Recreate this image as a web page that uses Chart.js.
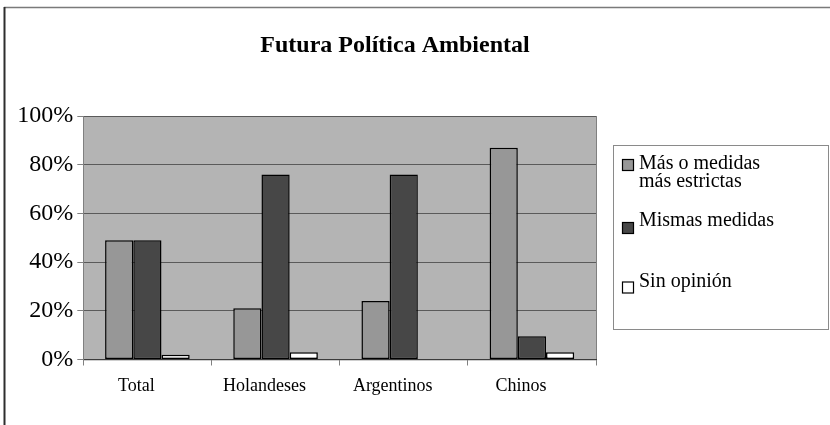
<!DOCTYPE html>
<html>
<head>
<meta charset="utf-8">
<script src="https://cdn.jsdelivr.net/npm/chart.js@4/dist/chart.umd.min.js"></script>
<style>
  html, body { margin: 0; padding: 0; background: #ffffff; }
  #wrap { width: 830px; height: 425px; }
</style>
</head>
<body>
<div id="wrap"><canvas id="chart" width="830" height="425"></canvas></div>
<script>
// Survey data: opinion on future environmental policy, by group (percent)
const categories = ['Total', 'Holandeses', 'Argentinos', 'Chinos'];
const seriesNames = ['Más o medidas más estrictas', 'Mismas medidas', 'Sin opinión'];
const masEstrictas = [49, 21, 24, 87];
const mismasMedidas = [49, 76, 76, 9.5];
const sinOpinion = [2, 3, 0, 3];
const yTickValues = [0, 20, 40, 60, 80, 100];
const chartTitle = 'Futura Política Ambiental';

const SERIF = '"Liberation Serif", "Times New Roman", serif';
const seriesColors = ['#979797', '#474747', '#ffffff'];

// Outer frame lines (top and left edge of the chart object)
const framePlugin = {
  id: 'frame',
  beforeDraw(chart) {
    const ctx = chart.ctx;
    ctx.save();
    ctx.strokeStyle = '#7a7a7a';
    ctx.lineWidth = 1.5;
    ctx.beginPath();
    ctx.moveTo(4, 7.5);
    ctx.lineTo(chart.width, 7.5);
    ctx.stroke();
    ctx.strokeStyle = '#2e2e2e';
    ctx.lineWidth = 2;
    ctx.beginPath();
    ctx.moveTo(4.5, 7);
    ctx.lineTo(4.5, chart.height);
    ctx.stroke();
    ctx.restore();
  }
};

// Grey plot area with a thin outline on the right
const plotAreaPlugin = {
  id: 'plotArea',
  beforeDraw(chart) {
    const { ctx, chartArea: a } = chart;
    ctx.save();
    ctx.fillStyle = '#b4b4b4';
    ctx.fillRect(a.left, a.top, a.right - a.left, a.bottom - a.top);
    ctx.strokeStyle = '#808080';
    ctx.lineWidth = 1;
    ctx.beginPath();
    ctx.moveTo(a.right + 0.5, a.top);
    ctx.lineTo(a.right + 0.5, a.bottom);
    ctx.stroke();
    ctx.restore();
  }
};

// Title text
const titlePlugin = {
  id: 'titleText',
  afterDraw(chart) {
    const ctx = chart.ctx;
    ctx.save();
    ctx.font = 'bold 24px ' + SERIF;
    ctx.fillStyle = '#000';
    ctx.textAlign = 'center';
    ctx.textBaseline = 'alphabetic';
    ctx.fillText(chartTitle, 395, 52);
    ctx.restore();
  }
};

// Boxed legend on the right, labels wrapped to the box width
const boxLegendPlugin = {
  id: 'boxLegend',
  afterDraw(chart) {
    const ctx = chart.ctx;
    const box = { x: 613.5, y: 145.5, w: 215, h: 184 };
    const baselines = [169, 226, 286.5];
    const squareTops = [159.5, 222.5, 282];
    const lineGap = 17.5;
    const maxTextWidth = 140;
    ctx.save();
    ctx.strokeStyle = '#8a8a8a';
    ctx.lineWidth = 1;
    ctx.strokeRect(box.x, box.y, box.w, box.h);
    ctx.font = '20px ' + SERIF;
    ctx.fillStyle = '#000';
    ctx.textAlign = 'left';
    ctx.textBaseline = 'alphabetic';
    chart.data.datasets.forEach((ds, i) => {
      // swatch
      ctx.fillStyle = ds.backgroundColor;
      ctx.fillRect(622.5, squareTops[i], 11, 11);
      ctx.strokeStyle = '#000';
      ctx.lineWidth = 1.2;
      ctx.strokeRect(622.5, squareTops[i], 11, 11);
      // wrapped label
      const words = ds.label.split(' ');
      const lines = [];
      let cur = '';
      words.forEach(w => {
        const test = cur ? cur + ' ' + w : w;
        if (ctx.measureText(test).width > maxTextWidth && cur) {
          lines.push(cur);
          cur = w;
        } else {
          cur = test;
        }
      });
      if (cur) lines.push(cur);
      ctx.fillStyle = '#000';
      lines.forEach((ln, k) => ctx.fillText(ln, 639, baselines[i] + k * lineGap));
    });
    ctx.restore();
  }
};

const datasets = [masEstrictas, mismasMedidas, sinOpinion].map((vals, i) => ({
  label: seriesNames[i],
  data: vals,
  backgroundColor: seriesColors[i],
  borderColor: '#000000',
  borderWidth: 1.5,
  borderSkipped: false,
  barPercentage: 1.0,
  categoryPercentage: 0.66
}));

new Chart(document.getElementById('chart'), {
  type: 'bar',
  data: { labels: categories, datasets },
  options: {
    responsive: false,
    animation: false,
    devicePixelRatio: 1,
    layout: { padding: { left: 10, right: 234, top: 116, bottom: 0 } },
    plugins: {
      legend: { display: false },
      title: { display: false },
      tooltip: { enabled: false }
    },
    scales: {
      x: {
        grid: {
          offset: true,
          drawOnChartArea: false,
          drawTicks: true,
          tickLength: 6,
          tickColor: '#808080',
          lineWidth: 1
        },
        border: { display: true, color: '#3c3c3c', width: 1.2 },
        ticks: {
          color: '#000',
          font: { family: SERIF, size: 18 },
          padding: 10,
          labelOffset: -11,
          maxRotation: 0,
          autoSkip: false
        },
        afterFit(scale) { scale.height = 65.5; }
      },
      y: {
        min: 0,
        max: 100,
        afterBuildTicks(scale) {
          scale.ticks = yTickValues.map(v => ({ value: v }));
        },
        grid: {
          color: '#5a5a5a',
          lineWidth: 1,
          drawTicks: true,
          tickLength: 6,
          tickColor: '#808080'
        },
        border: { display: true, color: '#808080', width: 1 },
        ticks: {
          color: '#000',
          font: { family: SERIF, size: 24 },
          padding: 4,
          callback: v => v + '%'
        },
        afterFit(scale) { scale.width = 73.3; }
      }
    }
  },
  plugins: [framePlugin, plotAreaPlugin, titlePlugin, boxLegendPlugin]
});
</script>
</body>
</html>
